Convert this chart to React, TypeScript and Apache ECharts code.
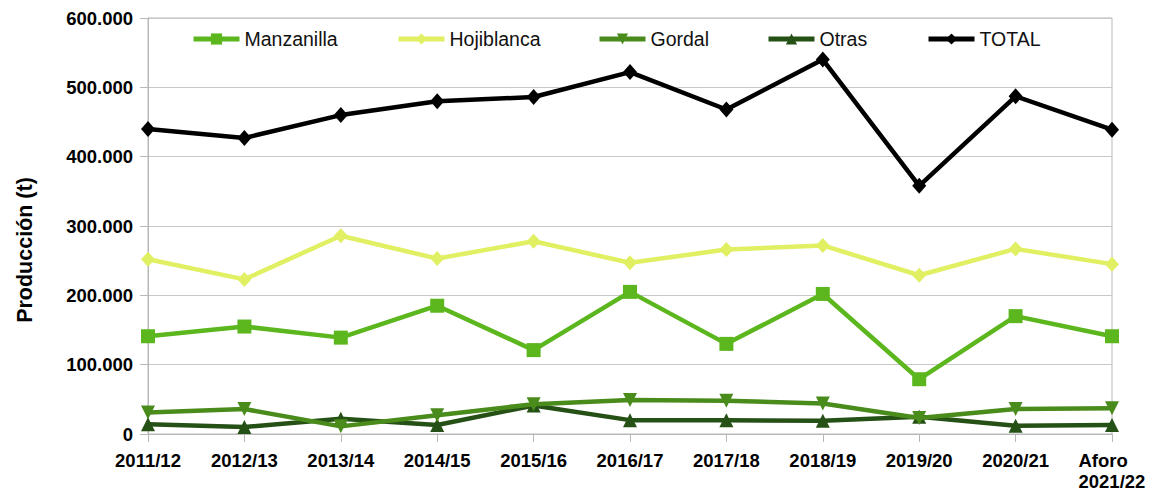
import React, { useEffect, useRef } from "react";
import * as echarts from "echarts";

const categories = ["2011/12", "2012/13", "2013/14", "2014/15", "2015/16", "2016/17", "2017/18", "2018/19", "2019/20", "2020/21", "Aforo\n2021/22"];
const manzanilla = [141000, 155000, 139000, 185000, 121000, 205000, 130000, 202000, 79000, 170000, 141000];
const hojiblanca = [252000, 223000, 286000, 253000, 278000, 247000, 266000, 272000, 229000, 267000, 245000];
const gordal = [31000, 36000, 11000, 27000, 43000, 49000, 48000, 44000, 23000, 36000, 37000];
const otras = [14000, 10000, 22000, 13000, 41000, 20000, 20000, 19000, 25000, 12000, 13000];
const total = [440000, 427000, 460000, 480000, 486000, 522000, 468000, 540000, 358000, 487000, 439000];

const seriesNames = ["Manzanilla", "Hojiblanca", "Gordal", "Otras", "TOTAL"];
const seriesColors = ["#5cb71e", "#e1ef63", "#4a8c1c", "#255016", "#000000"];
const legendLefts = [191, 396, 597, 766, 926];

const FONT = "'Liberation Sans', Arial, sans-serif";

function fmt(v: number): string {
  if (v === 0) return "0";
  const s = String(Math.round(v));
  return s.replace(/\B(?=(\d{3})+(?!\d))/g, ".");
}

export default function App() {
  const ref = useRef<HTMLDivElement>(null);
  useEffect(() => {
    if (!ref.current) return;
    const chart = echarts.init(ref.current, undefined, { renderer: "svg" });
    const dataSets = [manzanilla, hojiblanca, gordal, otras, total];
    const symbols = ["rect", "diamond", "triangle", "triangle", "diamond"];
    const rotates = [0, 0, 180, 0, 0];
    const sizes: any[] = [14, [14, 15], [14, 14], [14, 14], [14, 16]];
    chart.setOption({
      animation: false,
      textStyle: { fontFamily: FONT },
      grid: {
        left: 148,
        right: 37,
        top: 18,
        bottom: 55,
        show: true,
        borderColor: "#b8b8b8",
        borderWidth: 1,
        backgroundColor: "transparent",
      },
      legend: seriesNames.map((n, i) => ({
        data: [n],
        left: legendLefts[i],
        top: 29,
        padding: 0,
        itemWidth: 46,
        itemHeight: 14,
        lineStyle: { width: 5 },
        textStyle: { fontFamily: FONT, fontSize: 19.5, color: "#111", lineHeight: 20 },
      })),
      graphic: [
        {
          type: "text",
          x: 25,
          y: 250,
          rotation: Math.PI / 2,
          style: {
            text: "Producción (t)",
            fontFamily: FONT,
            fontSize: 21.5,
            fontWeight: "bold",
            fill: "#000",
            align: "center",
            verticalAlign: "middle",
          },
        },
      ],
      xAxis: {
        type: "category",
        data: categories,
        boundaryGap: false,
        axisLine: { lineStyle: { color: "#b8b8b8", width: 1 } },
        axisTick: { show: true, length: 8, lineStyle: { color: "#b8b8b8" } },
        splitLine: { show: false },
        axisLabel: {
          interval: 0,
          margin: 16,
          color: "#000",
          fontFamily: FONT,
          fontSize: 18.5,
          fontWeight: "bold",
          lineHeight: 21,
          formatter: (v: string) => {
            if (v.indexOf("\n") >= 0) {
              const parts = v.split("\n");
              return parts.map((p) => "{l|" + p + "}").join("\n");
            }
            return v;
          },
          rich: {
            l: {
              width: 67,
              align: "left",
              fontFamily: FONT,
              fontSize: 18.5,
              fontWeight: "bold",
              color: "#000",
              lineHeight: 21,
            },
          },
        },
      },
      yAxis: {
        type: "value",
        min: 0,
        max: 600000,
        interval: 100000,
        axisLine: { show: true, lineStyle: { color: "#b8b8b8", width: 1 } },
        axisTick: { show: true, length: 8, lineStyle: { color: "#b8b8b8" } },
        splitLine: { show: true, lineStyle: { color: "#c8c8c8", width: 1 } },
        axisLabel: {
          margin: 15,
          color: "#000",
          fontFamily: FONT,
          fontSize: 18.5,
          fontWeight: "bold",
          formatter: (v: number) => fmt(v),
        },
      },
      series: seriesNames.map((n, i) => ({
        name: n,
        type: "line",
        data: dataSets[i],
        symbol: symbols[i],
        symbolSize: sizes[i],
        symbolRotate: rotates[i],
        showAllSymbol: true,
        z: 10 - i,
        lineStyle: { color: seriesColors[i], width: 4.5 },
        itemStyle: { color: seriesColors[i] },
        emphasis: { disabled: true },
      })),
    });
    return () => chart.dispose();
  }, []);
  return <div ref={ref} style={{ width: 1149, height: 492, position: "absolute", left: 0, top: 0 }} />;
}
